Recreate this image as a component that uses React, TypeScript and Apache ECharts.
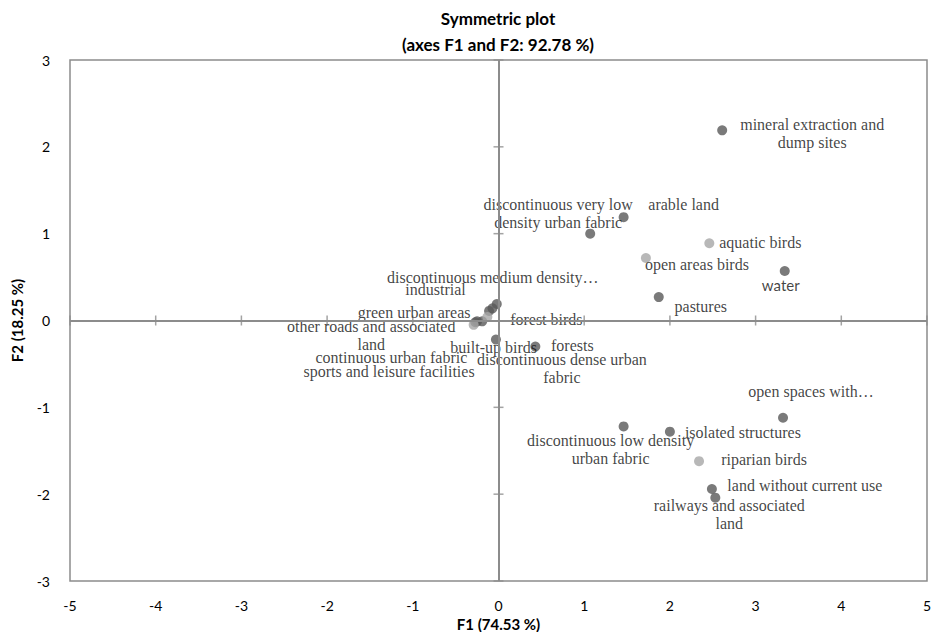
import React, { useEffect, useRef } from "react";
import * as echarts from "echarts";

// ---- data ----
const landNames = [
  "mineral extraction and\ndump sites",
  "arable land",
  "discontinuous very low\ndensity urban fabric",
  "water",
  "pastures",
  "discontinuous medium density…",
  "industrial",
  "green urban areas",
  "other roads and associated\nland",
  "continuous urban fabric",
  "sports and leisure facilities",
  "forests",
  "discontinuous dense urban\nfabric",
  "open spaces with…",
  "isolated structures",
  "discontinuous low density\nurban fabric",
  "land without current use",
  "railways and associated\nland",
];
const landF1 = [2.61, 1.46, 1.07, 3.34, 1.87, -0.02, -0.07, -0.11, -0.19, -0.27, -0.25, 0.43, -0.03, 3.32, 2.0, 1.46, 2.49, 2.53];
const landF2 = [2.19, 1.19, 1.0, 0.57, 0.27, 0.19, 0.14, 0.11, -0.01, -0.02, -0.01, -0.3, -0.22, -1.12, -1.28, -1.22, -1.94, -2.04];

const birdNames = ["aquatic birds", "open areas birds", "forest birds", "built-up birds", "riparian birds"];
const birdF1 = [2.46, 1.72, -0.13, -0.29, 2.34];
const birdF2 = [0.89, 0.72, 0.04, -0.05, -1.62];

const xTicks = [-5, -4, -3, -2, -1, 1, 2, 3, 4, 5];
const yTicks = [-3, -2, -1, 1, 2, 3];

// ---- label layout (pixel offsets from each point) ----
const landOffsets: [number, number][] = [
  [90, 3], [60, -13], [-32, -20], [-4, 14], [42, 9],
  [-4, -27], [-57, -19], [-75, 2], [-111, 14], [-84, 35],
  [-88, 50], [37, -1], [66, 29], [28, -26], [73, 1],
  [-13, 23], [93, -3], [14, 17],
];
const birdOffsets: [number, number][] = [[51, -1], [51, 7], [59, 2], [20, 23], [65, -2]];

const DARK = "#595959";
const LIGHT = "#a6a6a6";
const AXIS = "#8c8c8c";
const SERIF = "'Liberation Serif', 'Times New Roman', serif";
const SANS = "Lato, 'Open Sans', sans-serif";

export default function App() {
  const ref = useRef<HTMLDivElement>(null);
  useEffect(() => {
    document.body.style.margin = "0";
    if (!ref.current) return;
    const chart = echarts.init(ref.current, undefined, { renderer: "svg" });

    const landData = landNames.map((n, i) => ({
      value: [landF1[i], landF2[i]],
      name: n,
      label: {
        offset: landOffsets[i],
        ...(n === "water" ? { fontFamily: SANS, fontSize: 15 } : {}),
      },
    }));
    const birdData = birdNames.map((n, i) => ({
      value: [birdF1[i], birdF2[i]],
      name: n,
      label: { offset: birdOffsets[i] },
    }));
    const tickData = [
      ...xTicks.map((v) => ({ value: [v, 0], symbolSize: [1.5, 10] })),
      ...yTicks.map((v) => ({ value: [0, v], symbolSize: [10, 1.5] })),
    ];

    const label = {
      show: true,
      position: "inside",
      formatter: (p: any) => p.name,
      fontFamily: SERIF,
      fontSize: 16,
      lineHeight: 18,
      color: "#111",
      textBorderWidth: 0,
      textBorderColor: "transparent",
      align: "center",
      verticalAlign: "middle",
    };

    chart.setOption({
      animation: false,
      backgroundColor: "#ffffff",
      grid: {
        left: 70,
        right: 6,
        top: 60,
        bottom: 51,
        outerBoundsMode: "none",
        containLabel: false,
        show: true,
        borderColor: AXIS,
        borderWidth: 1.5,
      },
      graphic: [
        {
          type: "text",
          x: 498,
          y: 5,
          style: {
            text: "Symmetric plot\n(axes F1 and F2: 92.78 %)",
            fontFamily: SANS,
            fontWeight: "bold",
            fontSize: 17,
            lineHeight: 26,
            fill: "#000",
            align: "center",
            textAlign: "center",
          },
        },
      ],
      xAxis: {
        type: "value",
        min: -5,
        max: 5,
        interval: 1,
        axisLine: { onZero: false, show: false },
        axisTick: { show: false },
        splitLine: { show: false },
        axisLabel: { fontFamily: SANS, fontSize: 14, color: "#000", margin: 17 },
        name: "F1 (74.53 %)",
        nameLocation: "middle",
        nameGap: 33,
        nameTextStyle: { fontFamily: SANS, fontSize: 15, fontWeight: "bold", color: "#000" },
      },
      yAxis: {
        type: "value",
        min: -3,
        max: 3,
        interval: 1,
        axisLine: { onZero: false, show: false },
        axisTick: { show: false },
        splitLine: { show: false },
        axisLabel: { fontFamily: SANS, fontSize: 14, color: "#000", margin: 20 },
        name: "F2 (18.25 %)",
        nameLocation: "middle",
        nameGap: 46,
        nameTextStyle: { fontFamily: SANS, fontSize: 15, fontWeight: "bold", color: "#000" },
      },
      series: [
        {
          type: "scatter",
          silent: true,
          symbol: "rect",
          itemStyle: { color: AXIS },
          data: tickData,
          z: 1,
          markLine: {
            silent: true,
            symbol: "none",
            label: { show: false },
            lineStyle: { color: AXIS, width: 2, type: "solid" },
            data: [{ xAxis: 0 }, { yAxis: 0 }],
          },
        },
        {
          type: "scatter",
          symbolSize: 10,
          itemStyle: { color: DARK },
          label,
          data: landData,
          z: 3,
        },
        {
          type: "scatter",
          symbolSize: 10,
          itemStyle: { color: LIGHT },
          label,
          data: birdData,
          z: 4,
        },
      ],
    });
    return () => chart.dispose();
  }, []);
  return <div ref={ref} style={{ width: 933, height: 632 }} />;
}
